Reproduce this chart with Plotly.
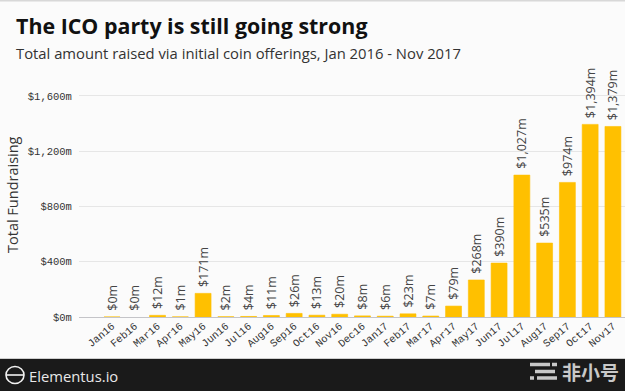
import plotly.graph_objects as go

months = ["Jan16","Feb16","Mar16","Apr16","May16","Jun16","Jul16","Aug16","Sep16","Oct16","Nov16","Dec16",
          "Jan17","Feb17","Mar17","Apr17","May17","Jun17","Jul17","Aug17","Sep17","Oct17","Nov17"]
raised = [0.4,0,12,1,171,2,4,11,26,13,20,8,6,23,7,79,268,390,1027,535,974,1394,1379]
y_ticks = [0,400,800,1200,1600]
y_labels = ["$0m","$400m","$800m","$1,200m","$1,600m"]

W, H = 625, 391
L, R, T, B = 79, 625, 60, 317
def px(x): return (x - L) / (R - L)
def py(y): return (B - y) / (B - T)

fig = go.Figure(go.Bar(
    x=list(range(len(months))), y=raised,
    width=0.7,
    marker=dict(color="#FFC000", line=dict(color="#FFC000", width=[0 if v == 0 else 0.6 for v in raised])),
    text=[f"\u00a0${v:,.0f}m" for v in raised],
    textposition="outside", textangle=-90, cliponaxis=False, constraintext="none",
    textfont=dict(family="Open Sans", size=12.5, color="#444444"),
    hoverinfo="skip",
))

shapes = [
    dict(type="rect", xref="paper", yref="paper", x0=px(0), x1=px(W), y0=py(359), y1=py(391),
         fillcolor="#1a1a1a", line=dict(width=0), layer="below"),
    dict(type="line", xref="paper", yref="paper", x0=px(0), x1=px(W), y0=py(358.5), y1=py(358.5),
         line=dict(color="#cfcfcf", width=1)),
    dict(type="line", xref="paper", yref="paper", x0=px(0), x1=px(W), y0=py(0.5), y1=py(0.5),
         line=dict(color="#d8d8d8", width=2)),
    dict(type="circle", xref="paper", yref="paper", x0=px(6), x1=px(24), y0=py(366.5), y1=py(383.5),
         line=dict(color="#f2f2f2", width=1.6)),
    dict(type="line", xref="paper", yref="paper", x0=px(6), x1=px(24), y0=py(375), y1=py(375),
         line=dict(color="#f2f2f2", width=1.6)),
]
for yy, x0, x1 in [(364.5,530,550),(364.5,552,557),(371.5,535,555),(378,530,534),(378,537,557)]:
    shapes.append(dict(type="line", xref="paper", yref="paper", x0=px(x0), x1=px(x1), y0=py(yy), y1=py(yy),
                       line=dict(color="#c8c8c8", width=3.5)))

def note(x, y, text, size, color, family="Open Sans", xanchor="left", **kw):
    return dict(xref="paper", yref="paper", x=px(x), y=py(y), text=text, showarrow=False,
                xanchor=xanchor, yanchor="middle", font=dict(family=family, size=size, color=color), **kw)

annotations = [
    note(14, 25, "<b>The ICO party is still going strong</b>", 21.4, "#111111"),
    note(14, 53, "Total amount raised via initial coin offerings, Jan 2016 - Nov 2017", 14.8, "#333333"),
    note(12, 195, "Total Fundraising", 14.5, "#333333", xanchor="center", textangle=-90),
    note(27, 375.5, "Elementus.io", 14.8, "#e8e8e8"),
    note(560, 371.5, "<b>非小号</b>", 19, "#c8c8c8", family="Noto Sans CJK SC"),
]

fig.update_layout(
    width=W, height=H, autosize=False,
    margin=dict(l=L, r=W-R, t=T, b=H-B, pad=0),
    paper_bgcolor="#fbfbfb", plot_bgcolor="#fbfbfb",
    showlegend=False, shapes=shapes, annotations=annotations,
    xaxis=dict(range=[-1.45, 22.53], tickmode="array", tickvals=list(range(len(months))), ticktext=months,
               tickangle=-40, tickfont=dict(family="Liberation Mono", size=10.5, color="#333333"),
               showgrid=False, zeroline=False, showline=False, ticks=""),
    yaxis=dict(range=[0, 1860], tickmode="array", tickvals=y_ticks, ticktext=y_labels,
               tickfont=dict(family="Liberation Mono", size=10.5, color="#333333"),
               gridcolor="#e6e6e6", gridwidth=1, zeroline=True, zerolinecolor="#c4c4c8", zerolinewidth=1,
               showline=False, ticks="outside", ticklen=4, tickcolor="rgba(0,0,0,0)"),
)

fig.write_html("out.html", config={"displayModeBar": False},
               post_script="document.body.style.margin='0';document.body.style.background='#fbfbfb';")
